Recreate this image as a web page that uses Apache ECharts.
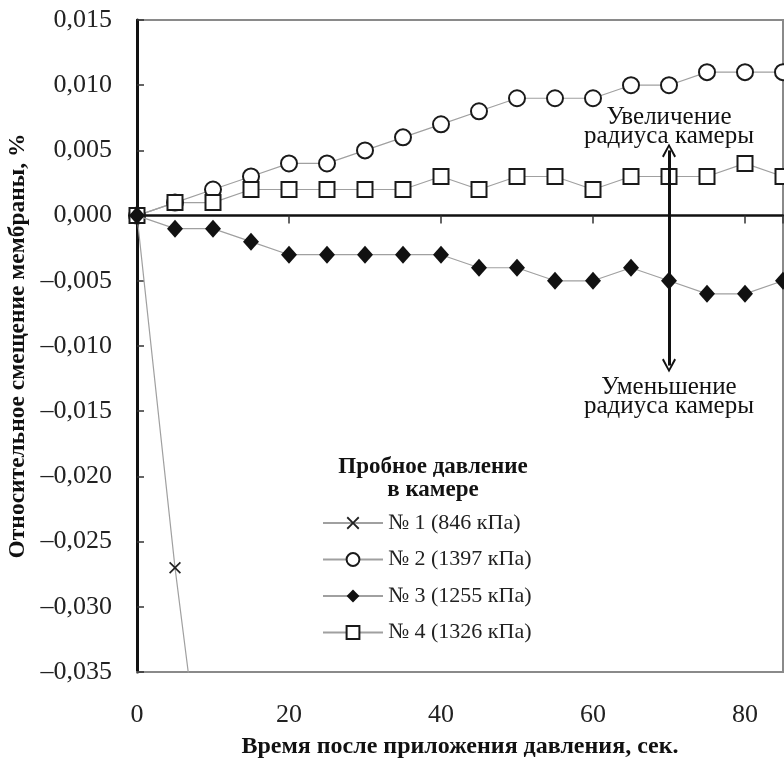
<!DOCTYPE html>
<html>
<head>
<meta charset="utf-8">
<script src="https://cdn.jsdelivr.net/npm/echarts@6/dist/echarts.min.js"></script>
<style>
  html, body { margin: 0; padding: 0; background: #fff; }
  #main { width: 784px; height: 758px; }
</style>
</head>
<body>
<div id="main"></div>
<script>
// время, сек.
const times = [0, 5, 10, 15, 20, 25, 30, 35, 40, 45, 50, 55, 60, 65, 70, 75, 80, 85];
// №1 — только первые точки, дальше уходит за шкалу
const times1 = [0, 5, 10];
const s1 = [0, -0.027, -0.050];
const s2 = [0, 0.001, 0.002, 0.003, 0.004, 0.004, 0.005, 0.006, 0.007, 0.008, 0.009, 0.009, 0.009, 0.010, 0.010, 0.011, 0.011, 0.011];
const s3 = [0, -0.001, -0.001, -0.002, -0.003, -0.003, -0.003, -0.003, -0.003, -0.004, -0.004, -0.005, -0.005, -0.004, -0.005, -0.006, -0.006, -0.005];
const s4 = [0, 0.001, 0.001, 0.002, 0.002, 0.002, 0.002, 0.002, 0.003, 0.002, 0.003, 0.003, 0.002, 0.003, 0.003, 0.003, 0.004, 0.003];
const names = ['№ 1 (846 кПа)', '№ 2 (1397 кПа)', '№ 3 (1255 кПа)', '№ 4 (1326 кПа)'];

// стрелки-пояснения
const arrowX = 70;
const arrowUp = 0.005;
const arrowDown = -0.0115;

const serif = 'Liberation Serif';
const crossPath = 'path://M1,0L5,4L9,0L10,1L6,5L10,9L9,10L5,6L1,10L0,9L4,5L0,1Z';
const chevron = 'path://M5,0L10,8.5L8.8,9.3L5,2.6L1.2,9.3L0,8.5Z';

function pairs(xs, ys) {
    return xs.map((x, i) => [x, ys[i]]);
}

const lineStyle = { color: '#a0a0a0', width: 1.2 };

const chart = echarts.init(document.getElementById('main'));
chart.setOption({
    animation: false,
    backgroundColor: '#fff',
    title: {
        text: 'Пробное давление\nв камере',
        left: 433,
        top: 456,
        textAlign: 'center',
        padding: 0,
        textStyle: { fontFamily: serif, fontWeight: 'bold', fontSize: 23, lineHeight: 23, color: '#111' }
    },
    legend: {
        orient: 'vertical',
        left: 322,
        top: 512,
        padding: 0,
        itemWidth: 60,
        itemHeight: 16,
        itemGap: 14.5,
        data: names,
        textStyle: { fontFamily: serif, fontSize: 22, lineHeight: 22, color: '#222' }
    },
    grid: {
        left: 137,
        top: 20,
        right: 1,
        bottom: 86,
        outerBoundsMode: 'none',
        show: true,
        borderColor: '#8a8a8a',
        borderWidth: 2
    },
    xAxis: [
        {
            type: 'value',
            min: 0,
            max: 85,
            interval: 20,
            name: 'Время после приложения давления, сек.',
            nameLocation: 'middle',
            nameGap: 63,
            nameTextStyle: { fontFamily: serif, fontWeight: 'bold', fontSize: 24, color: '#111' },
            axisLine: { onZero: false, lineStyle: { color: '#8a8a8a', width: 2 } },
            axisTick: { show: false },
            axisLabel: { fontFamily: serif, fontSize: 26, color: '#222', margin: 30, showMaxLabel: false },
            splitLine: { show: false }
        },
        {
            type: 'value',
            position: 'top',
            min: 0,
            max: 85,
            interval: 20,
            axisLine: { onZero: true, lineStyle: { color: '#111', width: 2.5 } },
            axisTick: { show: true, inside: true, length: 8, lineStyle: { color: '#333', width: 1.5 } },
            axisLabel: { show: false },
            splitLine: { show: false }
        }
    ],
    yAxis: {
        type: 'value',
        min: -0.035,
        max: 0.015,
        interval: 0.005,
        name: 'Относительное смещение мембраны, %',
        nameLocation: 'middle',
        nameRotate: 90,
        nameGap: 104,
        nameTextStyle: { fontFamily: serif, fontWeight: 'bold', fontSize: 23.5, color: '#111' },
        axisLine: { show: true, onZero: false, lineStyle: { color: '#111', width: 3 } },
        axisTick: { show: true, inside: true, length: 7, lineStyle: { color: '#333', width: 1.5 } },
        axisLabel: {
            fontFamily: serif, fontSize: 26, color: '#222', margin: 25,
            formatter: v => (v < 0 ? '–' : '') + Math.abs(v).toFixed(3).replace('.', ',')
        },
        splitLine: { show: false }
    },
    series: [
        {
            name: names[0],
            type: 'line',
            data: pairs(times1, s1),
            symbol: crossPath,
            symbolSize: 12,
            lineStyle: lineStyle,
            itemStyle: { color: '#222' }
        },
        {
            name: names[1],
            type: 'line',
            data: pairs(times, s2),
            symbol: 'circle',
            symbolSize: 16,
            lineStyle: lineStyle,
            itemStyle: { color: '#fff', borderColor: '#1a1a1a', borderWidth: 2 }
        },
        {
            name: names[2],
            type: 'line',
            z: 4,
            data: pairs(times, s3),
            symbol: 'diamond',
            symbolSize: [16, 18],
            lineStyle: lineStyle,
            itemStyle: { color: '#111' }
        },
        {
            name: names[3],
            type: 'line',
            data: pairs(times, s4),
            symbol: 'rect',
            symbolSize: 15,
            lineStyle: lineStyle,
            itemStyle: { color: '#fff', borderColor: '#1a1a1a', borderWidth: 2 }
        },
        {
            // стрелки «увеличение / уменьшение радиуса»
            type: 'line',
            data: [],
            z: 5,
            markLine: {
                silent: true,
                symbol: ['none', chevron],
                symbolSize: [14, 14],
                lineStyle: { color: '#111', width: 3, type: 'solid' },
                label: {
                    show: true,
                    position: 'end',
                    fontFamily: serif,
                    fontSize: 25,
                    lineHeight: 19,
                    color: '#111',
                    align: 'center'
                },
                data: [
                    [{ coord: [arrowX, 0] }, { coord: [arrowX, arrowUp], label: { distance: 4, formatter: 'Увеличение\nрадиуса камеры' } }],
                    [{ coord: [arrowX, 0] }, { coord: [arrowX, arrowDown], label: { distance: 12, formatter: 'Уменьшение\nрадиуса камеры' } }]
                ]
            }
        }
    ]
});
</script>
</body>
</html>
